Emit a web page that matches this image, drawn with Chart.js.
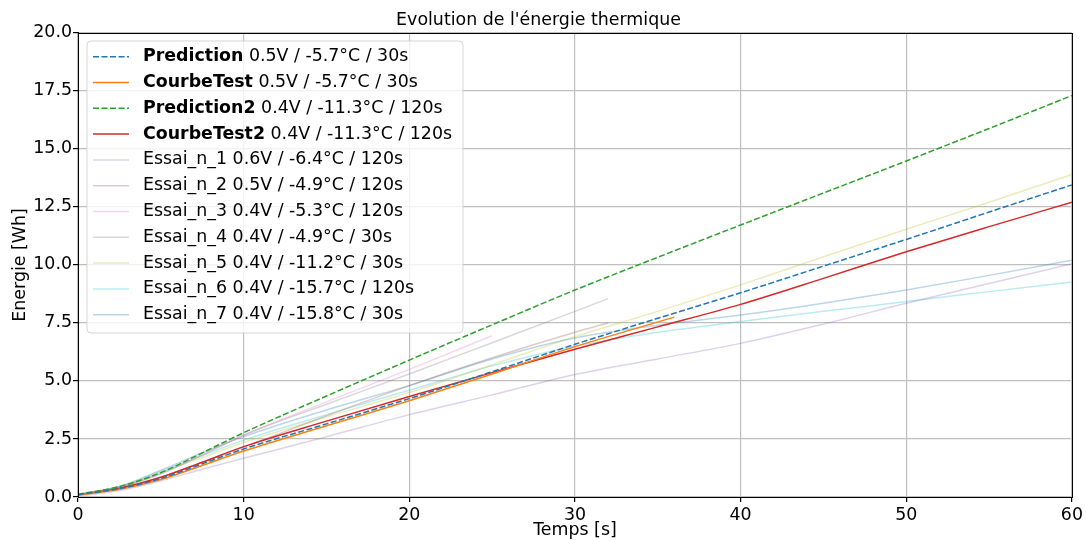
<!DOCTYPE html>
<html>
<head>
<meta charset="utf-8">
<script src="https://cdn.jsdelivr.net/npm/chart.js@4.4.1/dist/chart.umd.min.js"></script>
<style>
  html, body { margin: 0; padding: 0; background: #fff; }
  #box { width: 1086px; height: 540px; }
</style>
</head>
<body>
<div id="box"><canvas id="energieChart"></canvas></div>
<script>
// temps (s)
var temps = [0, 2.5, 5, 7.5, 10, 15, 20, 25, 30, 35, 40, 45, 50, 55, 60];
var tempsCourbeTest = [0, 2.5, 5, 7.5, 10, 15, 20, 25, 30, 36];
var temps25 = [0, 2.5, 5, 7.5, 10, 15, 20, 25];
var temps32 = [0, 2.5, 5, 7.5, 10, 15, 20, 25, 30, 32];

// energie (Wh)
var prediction  = [0.10, 0.36, 0.80, 1.43, 2.07, 3.15, 4.24, 5.40, 6.58, 7.70, 8.80, 9.95, 11.10, 12.28, 13.45];
var courbeTest  = [0.08, 0.33, 0.75, 1.36, 1.98, 3.07, 4.15, 5.30, 6.48, 7.75];
var prediction2 = [0.12, 0.45, 1.05, 1.90, 2.77, 4.35, 5.90, 7.42, 8.92, 10.33, 11.72, 13.10, 14.48, 15.88, 17.30];
var courbeTest2 = [0.10, 0.38, 0.85, 1.50, 2.17, 3.27, 4.33, 5.36, 6.37, 7.33, 8.30, 9.42, 10.57, 11.65, 12.70];
var essai1 = [0.05, 0.28, 0.70, 1.20, 1.67, 2.60, 3.55, 4.40, 5.28, 5.95, 6.62, 7.45, 8.35, 9.20, 10.05];
var essai2 = [0.08, 0.35, 0.85, 1.50, 2.15, 3.50, 4.80, 6.00, 7.10, 7.50];
var essai3 = [0.10, 0.42, 1.00, 1.80, 2.65, 4.10, 5.50, 6.95];
var essai4 = [0.10, 0.42, 1.00, 1.82, 2.67, 4.00, 5.30, 6.65, 8.00, 8.55];
var essai5 = [0.10, 0.42, 1.05, 1.70, 2.35, 3.45, 4.50, 5.70, 6.91, 8.00, 9.14, 10.35, 11.54, 12.70, 13.90];
var essai6 = [0.10, 0.45, 1.10, 1.78, 2.45, 3.55, 4.60, 5.65, 6.50, 7.10, 7.56, 8.00, 8.42, 8.85, 9.27];
var essai7 = [0.10, 0.45, 1.15, 1.90, 2.60, 3.75, 4.80, 5.95, 6.85, 7.40, 7.84, 8.35, 8.92, 9.55, 10.20];

var noms = ["Prediction", "CourbeTest", "Prediction2", "CourbeTest2", "Essai_n_1", "Essai_n_2",
            "Essai_n_3", "Essai_n_4", "Essai_n_5", "Essai_n_6", "Essai_n_7"];
var conditions = ["0.5V / -5.7°C / 30s", "0.5V / -5.7°C / 30s", "0.4V / -11.3°C / 120s",
                  "0.4V / -11.3°C / 120s", "0.6V / -6.4°C / 120s", "0.5V / -4.9°C / 120s",
                  "0.4V / -5.3°C / 120s", "0.4V / -4.9°C / 30s", "0.4V / -11.2°C / 30s",
                  "0.4V / -15.7°C / 120s", "0.4V / -15.8°C / 30s"];
var enGras = [true, true, true, true, false, false, false, false, false, false, false];
var lesTemps = [temps, tempsCourbeTest, temps, temps, temps, temps32, temps25, temps32, temps, temps, temps];
var lesValeurs = [prediction, courbeTest, prediction2, courbeTest2, essai1, essai2, essai3, essai4, essai5, essai6, essai7];

var couleurs = ["#1f77b4", "#ff7f0e", "#2ca02c", "#d62728",
                "rgba(148,103,189,0.3)", "rgba(140,86,75,0.3)", "rgba(227,119,194,0.3)",
                "rgba(127,127,127,0.3)", "rgba(188,189,34,0.3)", "rgba(23,190,207,0.3)",
                "rgba(31,119,180,0.3)"];
var tirets = [[6, 2.5], [], [6, 2.5], [], [], [], [], [], [], [], []];

var taille = 17.4;

var datasets = [];
for (var i = 0; i < noms.length; i++) {
  var pts = [];
  for (var j = 0; j < lesTemps[i].length; j++) {
    pts.push({ x: lesTemps[i][j], y: lesValeurs[i][j] });
  }
  datasets.push({
    label: noms[i] + " " + conditions[i],
    data: pts,
    showLine: true,
    borderColor: couleurs[i],
    backgroundColor: couleurs[i],
    borderDash: tirets[i],
    borderWidth: 1.5,
    pointRadius: 0,
    cubicInterpolationMode: "monotone",
    order: i
  });
}

Chart.defaults.font.family = "'DejaVu Sans', sans-serif";
Chart.defaults.font.size = taille;
Chart.defaults.color = "#000";

var cadre = {
  id: "cadre",
  afterDraw: function (chart) {
    var a = chart.chartArea, ctx = chart.ctx;
    ctx.save();
    ctx.strokeStyle = "#000";
    ctx.lineWidth = 1;
    ctx.strokeRect(Math.round(a.left) + 0.5, Math.round(a.top) + 0.5,
                   Math.round(a.right - a.left), Math.round(a.bottom - a.top));

    // legende a la matplotlib
    var x0 = 87, y0 = 41, w = 376, h = 292, r = 4;
    ctx.beginPath();
    ctx.moveTo(x0 + r, y0);
    ctx.arcTo(x0 + w, y0, x0 + w, y0 + h, r);
    ctx.arcTo(x0 + w, y0 + h, x0, y0 + h, r);
    ctx.arcTo(x0, y0 + h, x0, y0, r);
    ctx.arcTo(x0, y0, x0 + w, y0, r);
    ctx.closePath();
    ctx.fillStyle = "rgba(255,255,255,0.8)";
    ctx.fill();
    ctx.strokeStyle = "rgba(204,204,204,0.8)";
    ctx.stroke();

    ctx.textBaseline = "middle";
    for (var i = 0; i < noms.length; i++) {
      var y = 56.7 + i * 25.8;
      ctx.beginPath();
      ctx.setLineDash(tirets[i]);
      ctx.strokeStyle = couleurs[i];
      ctx.lineWidth = 1.5;
      ctx.moveTo(93, y);
      ctx.lineTo(129, y);
      ctx.stroke();
      ctx.setLineDash([]);
      ctx.fillStyle = "#000";
      var tx = 143;
      ctx.font = (enGras[i] ? "bold " : "") + taille + "px 'DejaVu Sans'";
      ctx.fillText(noms[i], tx, y);
      tx += ctx.measureText(noms[i]).width;
      ctx.font = taille + "px 'DejaVu Sans'";
      ctx.fillText(" " + conditions[i], tx, y);
    }
    ctx.restore();
  }
};

new Chart("energieChart", {
  type: "scatter",
  data: { datasets: datasets },
  plugins: [cadre],
  options: {
    responsive: true,
    maintainAspectRatio: false,
    animation: false,
    layout: { padding: { left: 4, right: 13, top: 0, bottom: 0 } },
    plugins: {
      legend: { display: false },
      tooltip: { enabled: false },
      title: {
        display: true,
        text: "Evolution de l'énergie thermique",
        font: { size: taille, weight: "normal" },
        color: "#000",
        padding: { top: 10, bottom: 2 }
      }
    },
    scales: {
      x: {
        type: "linear",
        min: 0,
        max: 60,
        afterFit: function (s) { s.height = 43; },
        ticks: { stepSize: 10, padding: 3, color: "#000", maxRotation: 0, font: { size: taille } },
        grid: { color: "#bfbfbf", lineWidth: 1.2, tickColor: "#000", tickLength: 5 },
        border: { color: "#000", width: 1 },
        title: { display: true, text: "Temps [s]", font: { size: taille }, padding: { top: 0, bottom: -1 } }
      },
      y: {
        min: 0,
        max: 20,
        afterFit: function (s) { s.width = 74; },
        ticks: {
          stepSize: 2.5,
          padding: 1,
          color: "#000",
          font: { size: taille },
          callback: function (v) { return v.toFixed(1); }
        },
        grid: { color: "#bfbfbf", lineWidth: 1.2, tickColor: "#000", tickLength: 5 },
        border: { color: "#000", width: 1 },
        title: { display: true, text: "Energie [Wh]", font: { size: taille }, padding: { top: 6, bottom: 4 } }
      }
    }
  }
});
</script>
</body>
</html>
